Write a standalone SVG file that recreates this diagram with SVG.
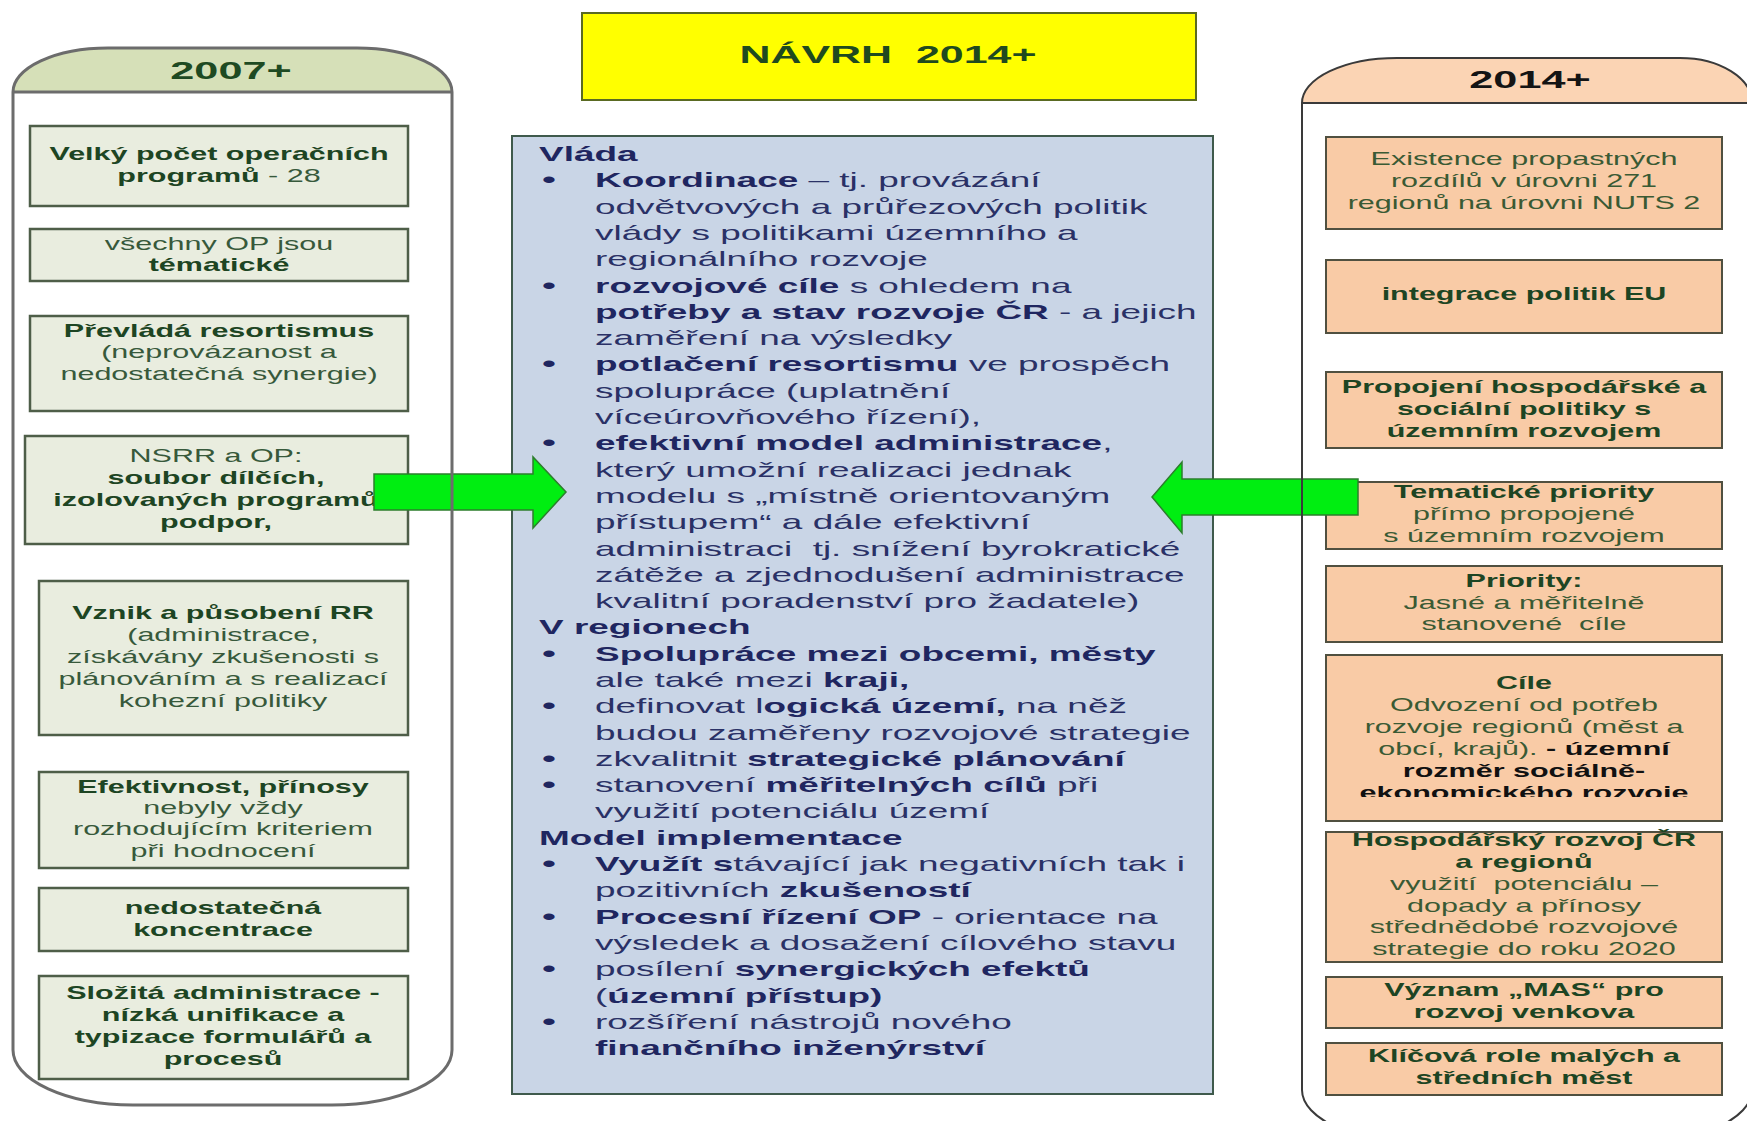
<svg xmlns="http://www.w3.org/2000/svg" width="1747" height="1121" viewBox="0 0 1747 1121">
<style>
.bg{fill:#ffffff}
.lbox{fill:#e9eddf;stroke:#4e5e48;stroke-width:2.5}
.rbox{fill:#f9cba6;stroke:#505040;stroke-width:2}
.cbox{fill:#c9d5e6;stroke:#3f5a4c;stroke-width:2}
.ybox{fill:#ffff00;stroke:#5a6a22;stroke-width:2}
.lpanel{fill:none;stroke:#6c6c6c;stroke-width:3}
.rpanel{fill:none;stroke:#3a3a3a;stroke-width:2}
.lhead{fill:#d6e0b8}
.rhead{fill:#fbd4b4}
.arrow{fill:#00ee11;stroke:#2d7d2d;stroke-width:1.5}
text{font-family:"Liberation Sans",Arial,sans-serif}
.lt{font-size:18.5px;fill:#37593b;text-anchor:middle}
.rt{font-size:18.5px;fill:#3a5a34;text-anchor:middle}
.b{font-weight:bold;fill:#1d4523}
.k{font-weight:bold;fill:#111111}
.ct{font-size:21px;fill:#2a3166}
.cb{font-weight:bold;fill:#1f2660}
.bu{font-size:23.5px;fill:#1f2660}
.hd{font-size:24px;font-weight:bold;text-anchor:middle}
</style>
<defs>
<clipPath id="clipR6"><rect x="1320" y="650" width="410" height="147"/></clipPath>
</defs>
<rect class="bg" x="0" y="0" width="1747" height="1121"/>

<g id="title">
<rect class="ybox" x="582" y="13" width="614" height="87"/>
<g transform="translate(888,0) scale(1.79,1)"><text class="hd" x="0" y="63" fill="#1f4a1f" xml:space="preserve">NÁVRH  2014+</text></g>
</g>

<g id="left-1">
<rect class="lbox" x="30" y="126" width="378" height="80"/>
<g transform="translate(219,0) scale(1.65,1)">
<text class="lt b" x="0" y="160">Velký počet operačních</text>
<text class="lt" x="0" y="182"><tspan class="b">programů</tspan> - 28</text>
</g>
</g>
<g id="left-2">
<rect class="lbox" x="30" y="229" width="378" height="52"/>
<g transform="translate(219,0) scale(1.65,1)">
<text class="lt" x="0" y="250">všechny OP jsou</text>
<text class="lt b" x="0" y="271">tématické</text>
</g>
</g>
<g id="left-3">
<rect class="lbox" x="30" y="316" width="378" height="95"/>
<g transform="translate(219,0) scale(1.65,1)">
<text class="lt b" x="0" y="337">Převládá resortismus</text>
<text class="lt" x="0" y="358">(neprovázanost a</text>
<text class="lt" x="0" y="380">nedostatečná synergie)</text>
</g>
</g>
<g id="left-4">
<rect class="lbox" x="25" y="436" width="383" height="108"/>
<g transform="translate(216,0) scale(1.65,1)">
<text class="lt" x="0" y="462">NSRR a OP:</text>
<text class="lt b" x="0" y="484">soubor dílčích,</text>
<text class="lt b" x="0" y="506">izolovaných programů</text>
<text class="lt b" x="0" y="528">podpor,</text>
</g>
</g>
<g id="left-5">
<rect class="lbox" x="39" y="581" width="369" height="154"/>
<g transform="translate(223,0) scale(1.65,1)">
<text class="lt b" x="0" y="619">Vznik a působení RR</text>
<text class="lt" x="0" y="641">(administrace,</text>
<text class="lt" x="0" y="663">získávány zkušenosti s</text>
<text class="lt" x="0" y="685">plánováním a s realizací</text>
<text class="lt" x="0" y="707">kohezní politiky</text>
</g>
</g>
<g id="left-6">
<rect class="lbox" x="39" y="772" width="369" height="96"/>
<g transform="translate(223,0) scale(1.65,1)">
<text class="lt b" x="0" y="793">Efektivnost, přínosy</text>
<text class="lt" x="0" y="814">nebyly vždy</text>
<text class="lt" x="0" y="835">rozhodujícím kriteriem</text>
<text class="lt" x="0" y="857">při hodnocení</text>
</g>
</g>
<g id="left-7">
<rect class="lbox" x="39" y="888" width="369" height="63"/>
<g transform="translate(223,0) scale(1.65,1)">
<text class="lt b" x="0" y="914">nedostatečná</text>
<text class="lt b" x="0" y="936">koncentrace</text>
</g>
</g>
<g id="left-8">
<rect class="lbox" x="39" y="976" width="369" height="103"/>
<g transform="translate(223,0) scale(1.65,1)">
<text class="lt b" x="0" y="999">Složitá administrace -</text>
<text class="lt b" x="0" y="1021">nízká unifikace a</text>
<text class="lt b" x="0" y="1043">typizace formulářů a</text>
<text class="lt b" x="0" y="1065">procesů</text>
</g>
</g>

<g id="center">
<rect class="cbox" x="512" y="136" width="701" height="958"/>
<g transform="translate(595,0) scale(1.76,1)">
<text class="ct cb" x="-31.8" y="161">Vláda</text>
<text class="bu" x="-30.2" y="188">•</text>
<text class="ct" x="0" y="187"><tspan class="cb">Koordinace</tspan> – tj. provázání</text>
<text class="ct" x="0" y="214">odvětvových a průřezových politik</text>
<text class="ct" x="0" y="240">vlády s politikami územního a</text>
<text class="ct" x="0" y="266">regionálního rozvoje</text>
<text class="bu" x="-30.2" y="294">•</text>
<text class="ct" x="0" y="293"><tspan class="cb">rozvojové cíle</tspan> s ohledem na</text>
<text class="ct" x="0" y="319"><tspan class="cb">potřeby a stav rozvoje ČR</tspan> - a jejich</text>
<text class="ct" x="0" y="345">zaměření na výsledky</text>
<text class="bu" x="-30.2" y="372">•</text>
<text class="ct" x="0" y="371"><tspan class="cb">potlačení resortismu</tspan> ve prospěch</text>
<text class="ct" x="0" y="398">spolupráce (uplatnění</text>
<text class="ct" x="0" y="424">víceúrovňového řízení),</text>
<text class="bu" x="-30.2" y="451">•</text>
<text class="ct" x="0" y="450"><tspan class="cb">efektivní model administrace</tspan>,</text>
<text class="ct" x="0" y="477">který umožní realizaci jednak</text>
<text class="ct" x="0" y="503">modelu s „místně orientovaným</text>
<text class="ct" x="0" y="529">přístupem“ a dále efektivní</text>
<text class="ct" x="0" y="556" xml:space="preserve">administraci  tj. snížení byrokratické</text>
<text class="ct" x="0" y="582">zátěže a zjednodušení administrace</text>
<text class="ct" x="0" y="608">kvalitní poradenství pro žadatele)</text>
<text class="ct cb" x="-31.8" y="634">V regionech</text>
<text class="bu" x="-30.2" y="662">•</text>
<text class="ct cb" x="0" y="661">Spolupráce mezi obcemi, městy</text>
<text class="ct" x="0" y="687">ale také mezi <tspan class="cb">kraji,</tspan></text>
<text class="bu" x="-30.2" y="714">•</text>
<text class="ct" x="0" y="713">definovat l<tspan class="cb">ogická území,</tspan> na něž</text>
<text class="ct" x="0" y="740">budou zaměřeny rozvojové strategie</text>
<text class="bu" x="-30.2" y="767">•</text>
<text class="ct" x="0" y="766">zkvalitnit <tspan class="cb">strategické plánování</tspan></text>
<text class="bu" x="-30.2" y="793">•</text>
<text class="ct" x="0" y="792">stanovení <tspan class="cb">měřitelných cílů</tspan> při</text>
<text class="ct" x="0" y="818">využití potenciálu území</text>
<text class="ct cb" x="-31.8" y="845">Model implementace</text>
<text class="bu" x="-30.2" y="872">•</text>
<text class="ct" x="0" y="871"><tspan class="cb">Využít s</tspan>távající jak negativních tak i</text>
<text class="ct" x="0" y="897">pozitivních <tspan class="cb">zkušeností</tspan></text>
<text class="bu" x="-30.2" y="925">•</text>
<text class="ct" x="0" y="924"><tspan class="cb">Procesní řízení OP</tspan> - orientace na</text>
<text class="ct" x="0" y="950">výsledek a dosažení cílového stavu</text>
<text class="bu" x="-30.2" y="977">•</text>
<text class="ct" x="0" y="976">posílení <tspan class="cb">synergických efektů</tspan></text>
<text class="ct" x="0" y="1003">(<tspan class="cb">územní přístup)</tspan></text>
<text class="bu" x="-30.2" y="1030">•</text>
<text class="ct" x="0" y="1029">rozšíření nástrojů nového</text>
<text class="ct cb" x="0" y="1055">finančního inženýrství</text>
</g>
</g>

<g id="right-1">
<rect class="rbox" x="1326" y="137" width="396" height="92"/>
<g transform="translate(1524,0) scale(1.65,1)">
<text class="rt" x="0" y="165">Existence propastných</text>
<text class="rt" x="0" y="187">rozdílů v úrovni 271</text>
<text class="rt" x="0" y="209">regionů na úrovni NUTS 2</text>
</g>
</g>
<g id="right-2">
<rect class="rbox" x="1326" y="260" width="396" height="73"/>
<g transform="translate(1524,0) scale(1.65,1)">
<text class="rt b" x="0" y="300">integrace politik EU</text>
</g>
</g>
<g id="right-3">
<rect class="rbox" x="1326" y="372" width="396" height="76"/>
<g transform="translate(1524,0) scale(1.65,1)">
<text class="rt b" x="0" y="393">Propojení hospodářské a</text>
<text class="rt b" x="0" y="415">sociální politiky s</text>
<text class="rt b" x="0" y="437">územním rozvojem</text>
</g>
</g>
<g id="right-4">
<rect class="rbox" x="1326" y="482" width="396" height="67"/>
<g transform="translate(1524,0) scale(1.65,1)">
<text class="rt b" x="0" y="498">Tematické priority</text>
<text class="rt" x="0" y="520">přímo propojené</text>
<text class="rt" x="0" y="542">s územním rozvojem</text>
</g>
</g>
<g id="right-5">
<rect class="rbox" x="1326" y="566" width="396" height="76"/>
<g transform="translate(1524,0) scale(1.65,1)">
<text class="rt b" x="0" y="587">Priority:</text>
<text class="rt" x="0" y="609">Jasné a měřitelně</text>
<text class="rt" x="0" y="630" xml:space="preserve">stanovené  cíle</text>
</g>
</g>
<g id="right-6">
<rect class="rbox" x="1326" y="655" width="396" height="166"/>
<g clip-path="url(#clipR6)">
<g transform="translate(1524,0) scale(1.65,1)">
<text class="rt b" x="0" y="689">Cíle</text>
<text class="rt" x="0" y="711">Odvození od potřeb</text>
<text class="rt" x="0" y="733">rozvoje regionů (měst a</text>
<text class="rt" x="0" y="755">obcí, krajů).<tspan class="k"> - územní</tspan></text>
<text class="rt k" x="0" y="777">rozměr sociálně-</text>
<text class="rt k" x="0" y="799">ekonomického rozvoje</text>
</g>
</g>
</g>
<g id="right-7">
<rect class="rbox" x="1326" y="832" width="396" height="130"/>
<g transform="translate(1524,0) scale(1.65,1)">
<text class="rt b" x="0" y="846">Hospodářský rozvoj ČR</text>
<text class="rt b" x="0" y="868">a regionů</text>
<text class="rt" x="0" y="890" xml:space="preserve">využití  potenciálu –</text>
<text class="rt" x="0" y="912">dopady a přínosy</text>
<text class="rt" x="0" y="933">střednědobé rozvojové</text>
<text class="rt" x="0" y="955">strategie do roku 2020</text>
</g>
</g>
<g id="right-8">
<rect class="rbox" x="1326" y="977" width="396" height="51"/>
<g transform="translate(1524,0) scale(1.65,1)">
<text class="rt b" x="0" y="996">Význam „MAS“ pro</text>
<text class="rt b" x="0" y="1018">rozvoj venkova</text>
</g>
</g>
<g id="right-9">
<rect class="rbox" x="1326" y="1043" width="396" height="52"/>
<g transform="translate(1524,0) scale(1.65,1)">
<text class="rt b" x="0" y="1062">Klíčová role malých a</text>
<text class="rt b" x="0" y="1084">středních měst</text>
</g>
</g>

<g id="connectors">
<polygon class="arrow" points="374,474 533,474 533,457 566,492 533,528 533,510 374,510"/>
<polygon class="arrow" points="1358,479 1182,479 1182,462 1152,497 1182,533 1182,515 1358,515"/>
</g>

<g id="panel-2007">
<path class="lhead" d="M13,92 A95,44 0 0 1 108,48 L357,48 A95,44 0 0 1 452,92 Z"/>
<path class="lpanel" d="M13,92 L452,92"/>
<path class="lpanel" d="M13,92 A95,44 0 0 1 108,48 L357,48 A95,44 0 0 1 452,92 L452,1050 A120,55 0 0 1 332,1105 L133,1105 A120,55 0 0 1 13,1050 Z"/>
<g transform="translate(231,0) scale(1.8,1)"><text class="hd" x="0" y="79" fill="#1e4a22">2007+</text></g>
</g>
<g id="panel-2014">
<path class="rhead" d="M1302,103 A95,45 0 0 1 1397,58 L1680,58 A72,45 0 0 1 1752,103 Z"/>
<path class="rpanel" d="M1302,103 L1752,103"/>
<path class="rpanel" d="M1302,103 A95,45 0 0 1 1397,58 L1680,58 A72,45 0 0 1 1752,103 L1752,1090 A130,55 0 0 1 1622,1145 L1432,1145 A130,55 0 0 1 1302,1090 Z"/>
<g transform="translate(1530,0) scale(1.8,1)"><text class="hd" x="0" y="88" fill="#141414">2014+</text></g>
</g>
</svg>
